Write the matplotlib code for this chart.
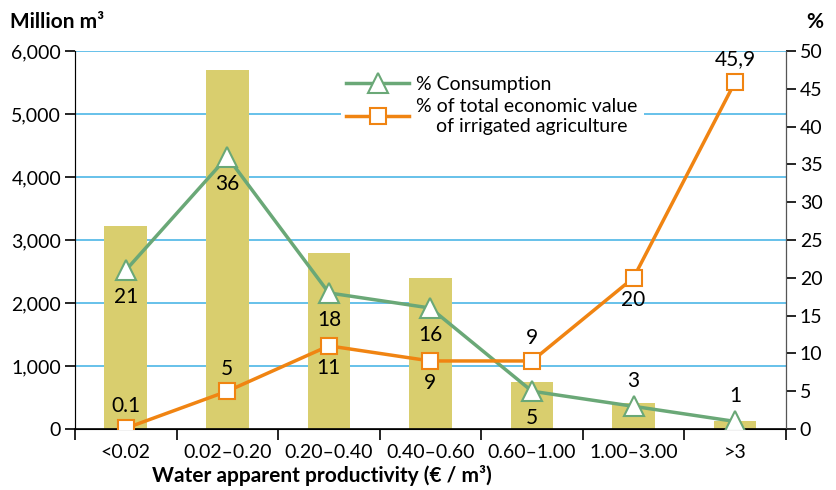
import numpy as np
import matplotlib.pyplot as plt

plt.rcParams['font.family'] = ['Lato', 'DejaVu Sans']

# data
categories = ['<0.02', '0.02–0.20', '0.20–0.40', '0.40–0.60', '0.60–1.00', '1.00–3.00', '>3']
volume = [3220, 5700, 2800, 2400, 750, 420, 130]
consumption = [21, 36, 18, 16, 5, 3, 1]
econ_value = [0.1, 5, 11, 9, 9, 20, 45.9]
econ_labels = ['0.1', '5', '11', '9', '9', '20', '45,9']
cons_above = [False, False, False, False, False, True, True]
econ_above = [True, True, False, False, True, False, True]

bar_col = '#d9ce6e'
green = '#6aa877'
orange = '#f08412'
grid_col = '#4db6e6'

fig = plt.figure(figsize=(8.36, 4.9), dpi=100)
ax = fig.add_axes([0.0897, 0.1245, 0.8503, 0.7714])
x = np.arange(len(categories))

ax.bar(x, volume, width=0.42, color=bar_col, zorder=2)
ax.set_ylim(0, 6000)
ax.set_xlim(-0.5, len(categories) - 0.5)
ax.set_yticks(np.arange(0, 6001, 1000))
ax.set_yticklabels([f'{v:,}' for v in range(0, 6001, 1000)])
for v in range(1000, 6001, 1000):
    ax.axhline(v, color=grid_col, lw=1.2, zorder=1)

ax.set_xticks(x)
ax.set_xticklabels(categories)
ax.set_xticks(np.arange(-0.5, len(categories)), minor=True)
ax.tick_params(axis='x', which='major', length=0, labelsize=14, pad=11)
ax.tick_params(axis='x', which='minor', length=8, width=1.2, direction='out')
ax.tick_params(axis='y', length=7, width=1.2, labelsize=14, pad=3)
ax.spines['top'].set_visible(False)
ax.spines['left'].set_color('#555555')
ax.spines['bottom'].set_linewidth(1.2)

ax2 = ax.twinx()
ax2.set_ylim(0, 50)
ax2.set_yticks(np.arange(0, 51, 5))
ax2.tick_params(axis='y', length=7, width=1.2, labelsize=14, pad=3)
ax2.spines['top'].set_visible(False)
ax2.spines['right'].set_color('#555555')

ax2.plot(x, consumption, color=green, lw=2.5, marker='^', ms=14,
         mfc='white', mec=green, mew=1.5, label='% Consumption', zorder=3)
ax2.plot(x, econ_value, color=orange, lw=2.5, marker='s', ms=12,
         mfc='white', mec=orange, mew=1.5,
         label='% of total economic value\n    of irrigated agriculture', zorder=4)

for xi, v, up in zip(x, consumption, cons_above):
    ax2.annotate(str(v), (xi, v), xytext=(0, 11 if up else -12), textcoords='offset points',
                 ha='center', va='bottom' if up else 'top', fontsize=15, zorder=5)
for xi, v, lab, up in zip(x, econ_value, econ_labels, econ_above):
    ax2.annotate(lab, (xi, v), xytext=(0, 9 if up else -9), textcoords='offset points',
                 ha='center', va='bottom' if up else 'top', fontsize=15, zorder=5)

leg = ax2.legend(loc='upper left', bbox_to_anchor=(0.36, 0.975), frameon=True,
                 facecolor='white', edgecolor='none', framealpha=1,
                 fontsize=14, handlelength=3.2, labelspacing=0.25, borderpad=0.3,
                 handletextpad=0.4)

fig.text(0.012, 0.955, 'Million m³', fontsize=15, fontweight='bold', ha='left', va='center')
fig.text(0.985, 0.955, '%', fontsize=15, fontweight='bold', ha='right', va='center')
fig.text(0.385, 0.008, 'Water apparent productivity (€ / m³)', fontsize=15,
         fontweight='bold', ha='center', va='bottom')

fig.savefig('out.png', dpi=100)
